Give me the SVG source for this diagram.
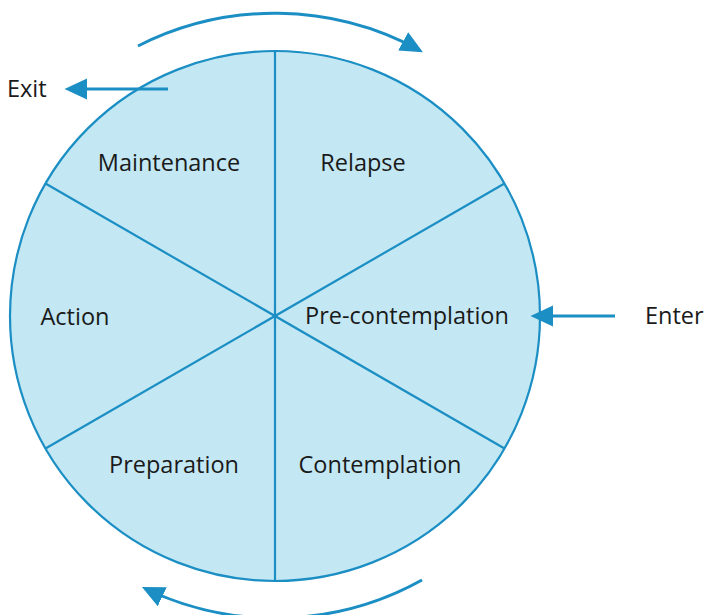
<svg xmlns="http://www.w3.org/2000/svg" width="704" height="615" viewBox="0 0 704 615">
<style>
.lbl{font-family:"Open Sans","Noto Sans",sans-serif;font-size:23.5px;fill:#1a1a1a}
.ln{stroke:#1b8ec4;stroke-width:2.2;fill:none}
.ar{stroke:#1b8ec4;stroke-width:3;fill:none}
</style>
<defs>
<marker id="ah" markerWidth="9" markerHeight="9" refX="6" refY="4.5" orient="auto" markerUnits="strokeWidth">
<path d="M0,1 L7.5,4.5 L0,8 Z" fill="#1b8ec4"/>
</marker>
</defs>
<rect width="704" height="615" fill="#fff"/>
<g id="wheel">
<circle cx="275" cy="316" r="265" fill="#c3e8f3" stroke="#1b8ec4" stroke-width="2.2"/>
<line class="ln" x1="275" y1="51" x2="275" y2="581"/>
<line class="ln" x1="45.5" y1="183.5" x2="504.5" y2="448.5"/>
<line class="ln" x1="45.5" y1="448.5" x2="504.5" y2="183.5"/>
</g>
<g id="maintenance"><text class="lbl" x="169" y="171" text-anchor="middle">Maintenance</text></g>
<g id="relapse"><text class="lbl" x="363" y="171" text-anchor="middle">Relapse</text></g>
<g id="precontemplation"><text class="lbl" x="407" y="324" text-anchor="middle">Pre-contemplation</text></g>
<g id="action"><text class="lbl" x="75" y="325" text-anchor="middle">Action</text></g>
<g id="preparation"><text class="lbl" x="174" y="473" text-anchor="middle">Preparation</text></g>
<g id="contemplation"><text class="lbl" x="380" y="473" text-anchor="middle">Contemplation</text></g>
<g id="exit"><text class="lbl" x="7" y="97">Exit</text></g>
<g id="enter"><text class="lbl" x="645" y="324">Enter</text></g>
<g id="connectors">
<path class="ar" d="M138,46 A302,302 0 0 1 419,50" marker-end="url(#ah)"/>
<path class="ar" d="M422,580 A302,302 0 0 1 146,589" marker-end="url(#ah)"/>
<line class="ar" x1="168" y1="89" x2="69" y2="89" marker-end="url(#ah)"/>
<line class="ar" x1="615" y1="316" x2="535" y2="316" marker-end="url(#ah)"/>
</g>
</svg>
